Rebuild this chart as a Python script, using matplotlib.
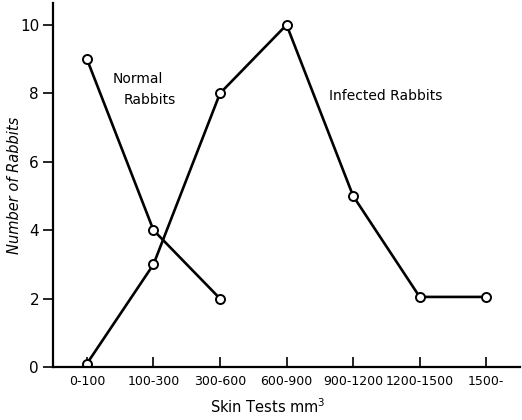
import matplotlib
matplotlib.use("Agg")
from matplotlib import pyplot as plt
import numpy as np

categories = ['0-100', '100-300', '300-600', '600-900', '900-1200', '1200-1500', '1500-']
normal = [9, 4, 2]
infected = [0.1, 3, 8, 10, 5, 2.05, 2.05]
y_ticks = [0, 2, 4, 6, 8, 10]

fig = plt.figure(figsize=(5.22, 4.2), dpi=100)
ax = fig.add_axes([0.1015, 0.126, 0.895, 0.867])

x = np.arange(len(categories))
ax.plot(x[:len(normal)], normal, color='black', lw=1.9, marker='o',
        markersize=6.5, markerfacecolor='white', markeredgewidth=1.4)
ax.plot(x, infected, color='black', lw=1.9, marker='o',
        markersize=6.5, markerfacecolor='white', markeredgewidth=1.4)

ax.set_xlim(-0.51, 6.51)
ax.set_ylim(0, 10.64)

ax.spines['top'].set_visible(False)
ax.spines['right'].set_visible(False)
ax.spines['left'].set_linewidth(1.6)
ax.spines['bottom'].set_linewidth(1.6)

ax.set_xticks(x)
ax.set_xticklabels(categories, fontsize=9)
ax.tick_params(axis='x', direction='in', length=7, width=1.2, pad=6)
ax.set_yticks(y_ticks)
ax.set_yticklabels([str(v) for v in y_ticks], fontsize=11)
ax.tick_params(axis='y', direction='out', length=7, width=1.2, pad=3)

ax.set_ylabel('Number of Rabbits', fontsize=10.5, style='italic')
ax.yaxis.set_label_coords(-0.066, 0.5)
ax.set_xlabel('Skin Tests mm$^3$', fontsize=10.5)
ax.xaxis.set_label_coords(0.46, -0.11)
ax.xaxis.label.set_verticalalignment('center')

ax.text(0.38, 8.3, 'Normal', fontsize=10)
ax.text(0.55, 7.7, 'Rabbits', fontsize=10)
ax.text(3.63, 7.8, 'Infected Rabbits', fontsize=10)

plt.savefig('out.png', dpi=100)
